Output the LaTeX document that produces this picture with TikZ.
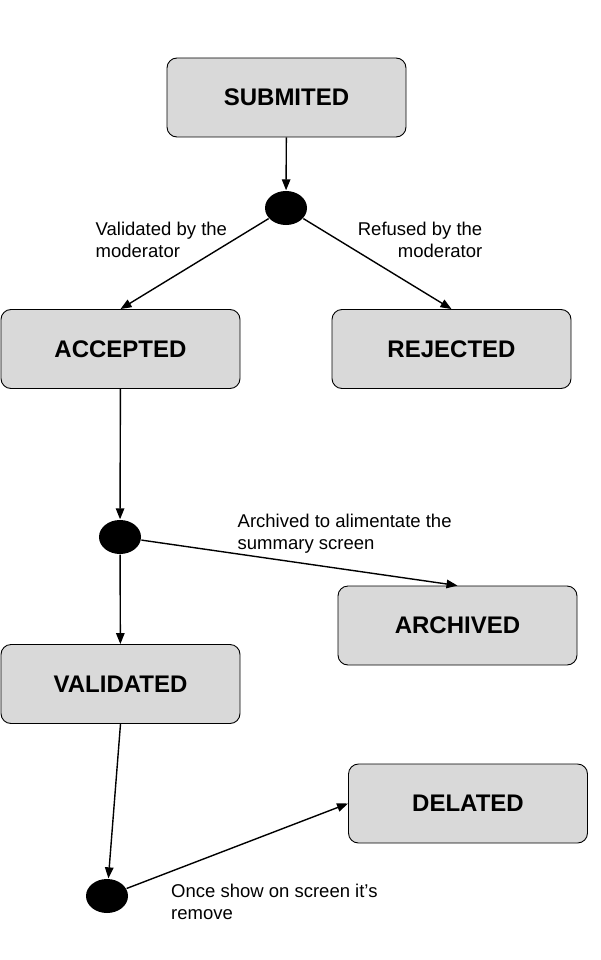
\documentclass[tikz,border=0pt]{standalone}
\usepackage{fontspec}
\setmainfont{Liberation Sans}
\usepackage{tikz}
\usetikzlibrary{shapes,arrows.meta,positioning}

\begin{document}
\begin{tikzpicture}[x=1pt, y=-1pt, line width=1.4pt,
    >={Triangle[length=11pt,width=8.5pt]},
    box/.style={draw, line width=0.9pt, rounded corners=10pt, fill=black!15,
        minimum width=239pt, minimum height=79pt,
        font=\fontsize{24}{28}\selectfont\bfseries},
    blob/.style={ellipse, fill=black, inner sep=0pt,
        minimum width=42pt, minimum height=34pt},
    lbl/.style={inner sep=0pt, font=\fontsize{18.5}{22}\selectfont}]
    \useasboundingbox (0,0) rectangle (600,960);

    % States
    \node[box] (sub) at (286.5,97.5) {SUBMITED};
    \node[box] (acc) at (120.5,349) {ACCEPTED};
    \node[box] (rej) at (451.5,349) {REJECTED};
    \node[box] (arc) at (457.5,625.5) {ARCHIVED};
    \node[box] (val) at (120.5,684) {VALIDATED};
    \node[box] (del) at (468,803.5) {DELATED};

    % Choices
    \node[blob] (c1) at (286,208) {};
    \node[blob] (c2) at (120,537) {};
    \node[blob] (c3) at (107,896) {};

    % Labels
    \node[lbl, align=left, anchor=north west] (lv) at (95,221.5) {Validated by the\\moderator};
    \node[lbl, align=right, anchor=north east] (lr) at (483,221.5) {Refused by the\\moderator};
    \node[lbl, align=left, anchor=north west] (la) at (237,513.5) {Archived to alimentate the\\summary screen};
    \node[lbl, align=left, anchor=north west] (lo) at (170.5,883.5) {Once show on screen it’s\\remove};

    % Transitions
    \draw[->] (sub) -- (c1);
    \draw[->] (c1) -- (acc.north);
    \draw[->] (c1) -- (rej.north);
    \draw[->] (acc) -- (c2);
    \draw[->] (c2) -- (arc.north);
    \draw[->] (c2) -- (val);
    \draw[->] (val.south) -- (c3);
    \draw[->] (c3) -- (del.west);
\end{tikzpicture}
\end{document}
